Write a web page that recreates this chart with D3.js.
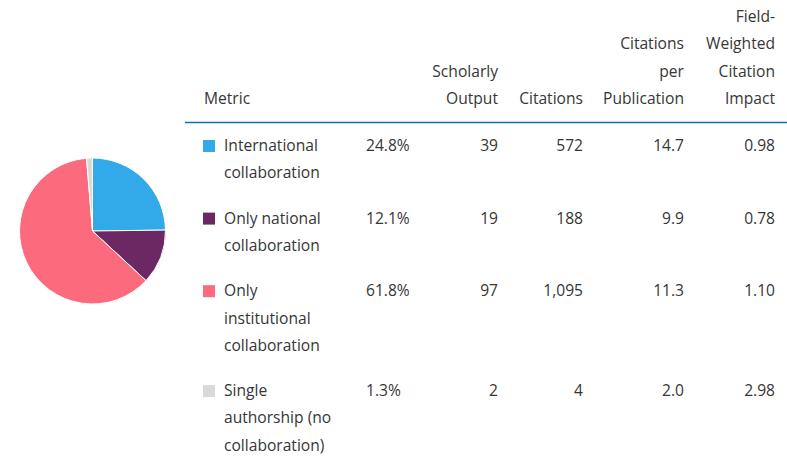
<!DOCTYPE html>
<html>
<head>
<meta charset="utf-8">
<script src="https://cdn.jsdelivr.net/npm/d3@7"></script>
<style>
  body { margin: 0; background: #fff; }
  svg text { font-family: "Open Sans", sans-serif; font-size: 15.6px; fill: #363636; }
</style>
</head>
<body>
<div id="chart"></div>
<script>
const metrics = ["International collaboration", "Only national collaboration",
                 "Only institutional collaboration", "Single authorship (no collaboration)"];
const shares = [24.8, 12.1, 61.8, 1.3];
const output = [39, 19, 97, 2];
const citations = [572, 188, 1095, 4];
const perPub = [14.7, 9.9, 11.3, 2.0];
const fwci = [0.98, 0.78, 1.10, 2.98];
const colors = ["#32aaea", "#6b2862", "#fc6b7d", "#d9d9d9"];
const headers = [["Scholarly", "Output"], ["Citations"], ["Citations", "per", "Publication"],
                 ["Field-", "Weighted", "Citation", "Impact"]];

const width = 787, height = 456;
const svg = d3.select("#chart").append("svg")
    .attr("width", width).attr("height", height);

// pie
const pie = d3.pie().sort(null).value(d => d);
const arc = d3.arc().innerRadius(0).outerRadius(73);
svg.append("g")
    .attr("transform", "translate(92.5,231)")
    .selectAll("path")
    .data(pie(shares))
    .join("path")
    .attr("d", arc)
    .attr("fill", (d, i) => colors[i])
    .attr("stroke", "#fff")
    .attr("stroke-width", 1);

// table
const lineH = 27.3;
const colRight = [498, 583, 684, 775];
const headBase = 104;

svg.append("text").attr("x", 204).attr("y", headBase).text("Metric");
headers.forEach((lines, c) => {
    lines.forEach((t, j) => {
        svg.append("text")
            .attr("x", colRight[c])
            .attr("y", headBase - (lines.length - 1 - j) * lineH)
            .attr("text-anchor", "end")
            .text(t);
    });
});

svg.append("line")
    .attr("x1", 185).attr("x2", width)
    .attr("y1", 122.5).attr("y2", 122.5)
    .attr("stroke", "#0b72a3").attr("stroke-width", 1.5);

const fmtInt = d3.format(",");
const maxLabel = 122;
let y = 151;
metrics.forEach((m, i) => {
    const g = svg.append("g");
    g.append("rect")
        .attr("x", 203).attr("y", y - 11)
        .attr("width", 12).attr("height", 12)
        .attr("fill", colors[i]);

    // wrap label
    const words = m.split(" ");
    const lines = [];
    let cur = "";
    const probe = g.append("text").attr("x", 224);
    words.forEach(w => {
        const test = cur ? cur + " " + w : w;
        probe.text(test);
        if (probe.node().getComputedTextLength() > maxLabel && cur) {
            lines.push(cur);
            cur = w;
        } else {
            cur = test;
        }
    });
    lines.push(cur);
    probe.remove();
    lines.forEach((t, j) => {
        g.append("text").attr("x", 224).attr("y", y + j * lineH).text(t);
    });

    g.append("text").attr("x", 366).attr("y", y).text(shares[i].toFixed(1) + "%");
    const vals = [output[i], fmtInt(citations[i]), perPub[i].toFixed(1), fwci[i].toFixed(2)];
    vals.forEach((v, c) => {
        g.append("text").attr("x", colRight[c]).attr("y", y)
            .attr("text-anchor", "end").text(v);
    });

    y += lines.length * lineH + 18;
});
</script>
</body>
</html>
